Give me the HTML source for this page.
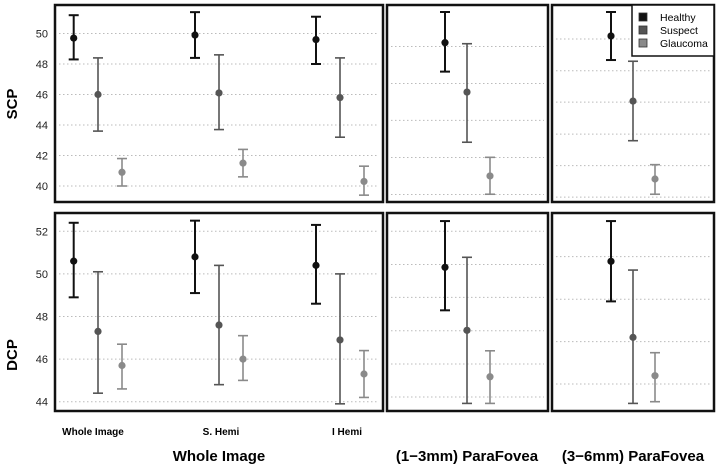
<!DOCTYPE html>
<html><head><meta charset="utf-8"><style>
body{margin:0;background:#fff;}
svg{display:block;font-family:"Liberation Sans",Arial,sans-serif;}
</style></head><body>
<svg id="c" width="719" height="466"></svg>
<script>
const groups = ["Healthy","Suspect","Glaucoma"];
const colors = ["#111","#555","#8a8a8a"];
const categories = ["Whole Image","S. Hemi","I Hemi","(1-3mm) ParaFovea","(3-6mm) ParaFovea"];
const scpMid = [[49.7,46.0,40.9],[49.9,46.1,41.5],[49.6,45.8,40.3],[49.4,46.16,40.66],[49.84,45.57,40.46]];
const scpLo  = [[48.3,43.6,40.0],[48.4,43.7,40.6],[48.0,43.2,39.4],[47.5,42.87,39.46],[48.26,42.97,39.46]];
const scpHi  = [[51.2,48.4,41.8],[51.4,48.6,42.4],[51.1,48.4,41.3],[51.41,49.33,41.88],[51.41,48.18,41.4]];
const dcpMid = [[50.6,47.3,45.7],[50.8,47.6,46.0],[50.4,46.9,45.3],[50.31,47.35,45.17],[50.59,47.02,45.22]];
const dcpLo  = [[48.9,44.4,44.6],[49.1,44.8,45.0],[48.6,43.9,44.2],[48.29,43.92,43.92],[48.71,43.92,44.0]];
const dcpHi  = [[52.4,50.1,46.7],[52.5,50.4,47.1],[52.3,50.0,46.4],[52.48,50.78,46.39],[52.48,50.18,46.3]];
const scpTicks = [40,42,44,46,48,50];
const dcpTicks = [44,46,48,50,52];
const scpGrid = [scpTicks,scpTicks,scpTicks,[49.15,46.72,44.3,41.87,39.44],[49.64,47.56,45.5,43.4,41.34,39.27]];
const dcpGrid = [dcpTicks,dcpTicks,dcpTicks,[52.0,50.44,48.9,47.33,45.77,44.22],[50.81,48.81,46.82,44.83]];

const svg=document.getElementById('c');
const NS='http://www.w3.org/2000/svg';
function el(t,a,p){const e=document.createElementNS(NS,t);for(const k in a)e.setAttribute(k,a[k]);(p||svg).appendChild(e);return e;}
const yS=v=>33.5+(50-v)*15.25;
const yD=v=>231.3+(52-v)*21.3;
const panels=[[55,383],[387,548],[552,714]];
const catPanel=[0,0,0,1,2];
const catX=[[73.7,98,122],[195,219,243],[316,340,364],[445,467,490],[611,633,655]];
const rows=[{y0:5,y1:202,ys:yS,mid:scpMid,lo:scpLo,hi:scpHi,grid:scpGrid,ticks:scpTicks,name:'scp'},
            {y0:213,y1:411,ys:yD,mid:dcpMid,lo:dcpLo,hi:dcpHi,grid:dcpGrid,ticks:dcpTicks,name:'dcp'}];
rows.forEach(r=>{
  [0,3,4].forEach(ci=>{
    const p=panels[catPanel[ci]];
    r.grid[ci].forEach(v=>{
      const g=el('line',{x1:p[0]+4,x2:p[1]-4,y1:r.ys(v),y2:r.ys(v),stroke:'#bbb','stroke-width':1,'stroke-dasharray':'1.5 2.5'});
      
      
    });
  });
  r.ticks.forEach(v=>{
    const t=el('text',{x:48,y:r.ys(v)+4,'text-anchor':'end','font-size':11,fill:'#222'});
    t.textContent=v;
    
    
  });
  categories.forEach((c,ci)=>{
    groups.forEach((g,gi)=>{
      const x=catX[ci][gi];
      const yl=r.ys(r.lo[ci][gi]),yh=r.ys(r.hi[ci][gi]),ym=r.ys(r.mid[ci][gi]);
      const col=colors[gi],w=gi==0?2:1.6;
      const grp=el('g',{stroke:col,'stroke-width':w});
      
      
      el('line',{x1:x,x2:x,y1:yh,y2:yl},grp);
      el('line',{x1:x-5,x2:x+5,y1:yh,y2:yh},grp);
      el('line',{x1:x-5,x2:x+5,y1:yl,y2:yl},grp);
      const d=el('circle',{cx:x,cy:ym,r:3.6,fill:col,stroke:'none'});
      
      
    });
  });
  panels.forEach(p=>{
    const b=el('rect',{x:p[0],y:r.y0,width:p[1]-p[0],height:r.y1-r.y0,fill:'none',stroke:'#111','stroke-width':2.5});
    
    
  });
});
function txt(s,a,name){const t=el('text',a);t.textContent=s;return t;}
txt('SCP',{x:0,y:0,transform:'translate(17,104) rotate(-90)','text-anchor':'middle','font-size':15,'font-weight':'bold'},'y-axis-title-scp');
txt('DCP',{x:0,y:0,transform:'translate(17,355) rotate(-90)','text-anchor':'middle','font-size':15,'font-weight':'bold'},'y-axis-title-dcp');
[[93,'Whole Image'],[221,'S. Hemi'],[347,'I Hemi']].forEach(a=>txt(a[1],{x:a[0],y:435,'text-anchor':'middle','font-size':10,'font-weight':'bold'},'category-label'));
txt('Whole Image',{x:219,y:461,'text-anchor':'middle','font-size':15,'font-weight':'bold'},'x-axis-title-whole-image');
txt('(1\u22123mm) ParaFovea',{x:467,y:461,'text-anchor':'middle','font-size':15,'font-weight':'bold'},'x-axis-title-parafovea-1-3');
txt('(3\u22126mm) ParaFovea',{x:633,y:461,'text-anchor':'middle','font-size':15,'font-weight':'bold'},'x-axis-title-parafovea-3-6');
const lg=el('g',{});


el('rect',{x:632,y:5,width:82,height:51,fill:'#fff',stroke:'#111','stroke-width':1.5},lg);
groups.forEach((g,i)=>{
  const y=17+i*13;
  const s=el('rect',{x:639,y:y-4,width:8,height:8,fill:colors[i],stroke:'#333','stroke-width':0.8},lg);
  
  
  const t=el('text',{x:660,y:y+4,'font-size':10.5},lg);
  t.textContent=g;
  
  
});
</script>
</body></html>
